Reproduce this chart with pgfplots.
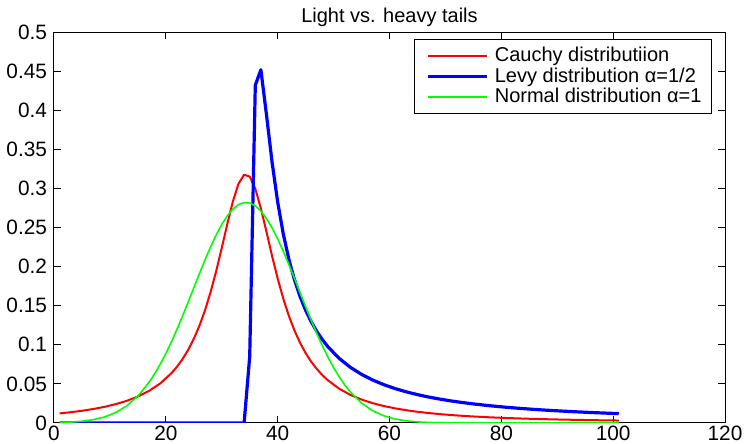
\documentclass[border=0pt]{standalone}
\usepackage{fontspec}
\setmainfont{Liberation Sans}
\usepackage{pgfplots}
\pgfplotsset{compat=1.18}
\begin{document}
\fontsize{10}{12}\selectfont
\begin{tikzpicture}
% fix the page to the reference frame (2 px per pt)
\useasboundingbox (-27pt,-10.5pt) rectangle (345.5pt,211.5pt);
\begin{axis}[
    at={(0,0)}, anchor=south west,
    width=335.5pt, height=195.5pt, scale only axis,
    xmin=0, xmax=120, ymin=0, ymax=0.5,
    xtick={0,20,40,60,80,100,120},
    ytick={0,0.05,0.1,0.15,0.2,0.25,0.3,0.35,0.4,0.45,0.5},
    scaled y ticks=false,
    yticklabel style={/pgf/number format/fixed, /pgf/number format/precision=2},
    xticklabel style={yshift=1.8pt},
    ticklabel style={font=\fontsize{10.4}{12}\selectfont},
    /pgf/number format/assume math mode=true,
    tick align=inside, major tick length=3.3pt,
    tick style={black, line width=0.5pt},
    axis line style={line width=0.5pt},
    title={Light vs. heavy tails},
    title style={anchor=base, yshift=-1pt, inner sep=0pt},
    legend style={at={(1,1)}, anchor=north east, xshift=-6.5pt, yshift=-3.5pt,
        draw=black, line width=0.5pt, cells={anchor=west}, row sep=-2.5pt,
        inner xsep=3pt, inner ysep=2pt},
    legend image code/.code={\draw[#1] (0pt,0pt) -- (29.5pt,0pt);
        \path (-3pt,0pt) (30.5pt,0pt);},
    every axis plot/.append style={line join=round},
    ]
\addplot[red, line width=1pt] coordinates {
(1,0.012243)(3,0.013786)(5,0.015634)(7,0.017873)(9,0.020616)(11,0.024023)(13,0.028320)(15,0.033827)(17,0.041019)(19,0.050606)(21,0.063662)(22,0.071975)(23,0.081828)(24,0.093551)(25,0.107537)(26,0.124219)(27,0.144032)(28,0.167311)(29,0.194091)(30,0.223768)(31,0.254648)(32,0.283572)(33,0.306067)(34,0.317516)(35,0.315158)(36,0.299586)(37,0.274405)(38,0.244384)(39,0.213631)(40,0.184795)(41,0.159155)(42,0.137055)(43,0.118331)(44,0.102598)(45,0.089413)(46,0.078353)(47,0.069048)(48,0.061184)(49,0.054505)(51,0.043905)(53,0.036008)(55,0.030001)(57,0.025343)(59,0.021669)(61,0.018724)(63,0.016332)(65,0.014364)(67,0.012727)(69,0.011352)(71,0.010186)(73,0.009189)(75,0.008331)(77,0.007586)(79,0.006936)(81,0.006366)(83,0.005863)(85,0.005417)(87,0.005020)(89,0.004665)(91,0.004346)(93,0.004058)(95,0.003798)(97,0.003562)(99,0.003347)(101,0.003152)
};
\addplot[blue, line width=1.6pt] coordinates {
(1,0)(34,0)(35,0.08500)(36,0.43193)(37,0.45180)(38,0.39405)(39,0.33347)(40,0.28269)(41,0.24197)(42,0.20942)(43,0.18321)(44,0.16184)(45,0.14422)(46,0.12950)(47,0.11708)(48,0.10650)(49,0.09740)(51,0.08263)(53,0.07122)(55,0.06220)(57,0.05493)(59,0.04897)(61,0.04401)(63,0.03983)(65,0.03627)(67,0.03321)(69,0.03056)(71,0.02824)(73,0.02620)(75,0.02440)(77,0.02279)(79,0.02135)(81,0.02006)(83,0.01889)(85,0.01783)(87,0.01686)(89,0.01598)(91,0.01518)(93,0.01444)(95,0.01376)(97,0.01313)(99,0.01254)(101,0.01200)
};
\addplot[green, line width=0.8pt] coordinates {
(1,0.000544)(3,0.001127)(5,0.002231)(7,0.004221)(9,0.007631)(11,0.013194)(13,0.021807)(15,0.034458)(17,0.052051)(18,0.062904)(19,0.075168)(20,0.088815)(21,0.103775)(22,0.119898)(23,0.136965)(24,0.154713)(25,0.172815)(26,0.190872)(27,0.208455)(28,0.225114)(29,0.240381)(30,0.253815)(31,0.264999)(32,0.273582)(33,0.279283)(34,0.281914)(35,0.281386)(36,0.277717)(37,0.271029)(38,0.261544)(39,0.249567)(40,0.235475)(41,0.219692)(42,0.202673)(43,0.184884)(44,0.166770)(45,0.148744)(46,0.131184)(47,0.114403)(48,0.098648)(49,0.084118)(50,0.070922)(51,0.059129)(52,0.048745)(53,0.039735)(55,0.025522)(57,0.015677)(59,0.009204)(61,0.005167)(63,0.002771)(65,0.001422)(67,0.000698)(69,0.000327)(71,0.000146)(73,0.000063)(75,0.000026)(81,0)(91,0)(101,0)
};
\legend{Cauchy distributiion, Levy distribution α=1/2, Normal distribution α=1}
\end{axis}
\end{tikzpicture}
\end{document}
